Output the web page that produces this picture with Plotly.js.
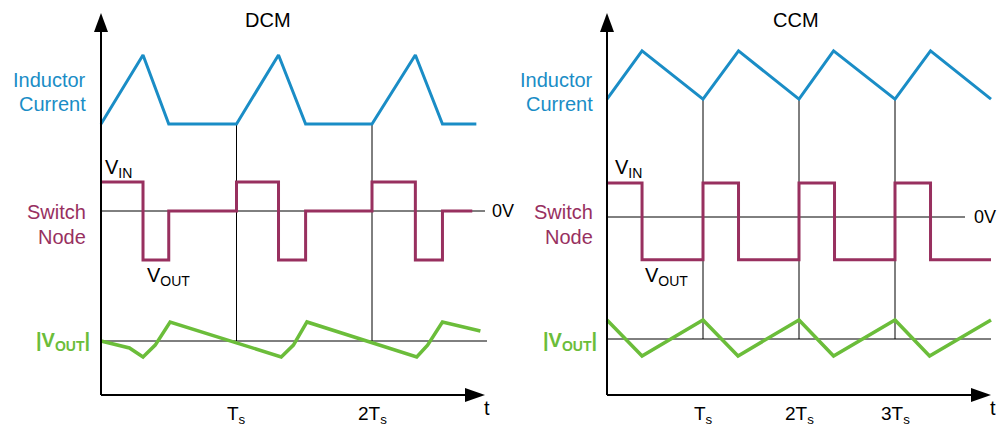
<!DOCTYPE html>
<html>
<head>
<meta charset="utf-8">
<script src="https://cdn.plot.ly/plotly-3.0.1.min.js"></script>
<style>html,body{margin:0;padding:0;background:#fff;}#chart{width:998px;height:426px;}</style>
</head>
<body>
<div id="chart"></div>
<script>
// ---------------- DATA (time in units of Ts, signals normalized) ----------------
// DCM panel
var dcmIT   = [0, 0.31, 0.50, 1.00, 1.31, 1.51, 2.00, 2.32, 2.52, 2.77];
var dcmI    = [0, 1,    0,    0,    1,    0,    0,    1,    0,    0];
var dcmSwT  = [0, 0.31, 0.50, 1.00, 1.31, 1.51, 2.00, 2.32, 2.52, 2.74];
var dcmSw   = [1, -1.69, 0,   1,    -1.69, 0,   1,    -1.69, 0,   0];
var dcmVoT  = [0, 0.21, 0.31, 0.40, 0.51, 1.33, 1.42, 1.52, 2.33, 2.41, 2.52, 2.80];
var dcmVo   = [0.0, -0.41, -0.94, -0.24, 1.12, -0.94, -0.24, 1.12, -0.94, -0.24, 1.12, 0.59];
// CCM panel
var ccmIT   = [0, 0.365, 1, 1.37, 2, 2.36, 3, 3.37, 4];
var ccmI    = [0.36, 1.06, 0.36, 1.06, 0.36, 1.06, 0.36, 1.06, 0.36];
var ccmSwT  = [0, 0.365, 1, 1.37, 2, 2.37, 3, 3.37, 4];
var ccmSw   = [1, -1.26, 1, -1.26, 1, -1.26, 1, -1.26, -1.26];
var ccmVoT  = [0, 0.365, 1, 1.365, 2, 2.36, 3, 3.36, 4];
var ccmVo   = [1.12, -1.0, 1.12, -1.0, 1.12, -1.0, 1.12, -1.0, 1.12];
// tick labels
var dcmTicks = [1, 2];
var dcmTickText = ['T<sub>s</sub>', '2T<sub>s</sub>'];
var ccmTicks = [1, 2, 3];
var ccmTickText = ['T<sub>s</sub>', '2T<sub>s</sub>', '3T<sub>s</sub>'];

// ---------------- STYLE / LAYOUT GEOMETRY ----------------
var BLUE = '#1a8dc6', PURPLE = '#98305f', GREEN = '#6bbd3a', BLACK = '#000';
var FONT = 'Liberation Sans, Arial, sans-serif';
// pixel geometry per panel
var P = {
  L: {x0: 101, pxT: 135.5, dom: [0, 499], iBase: 124, iScale: 69, swZero: 211, swScale: 29,
      voRef: 341, voScale: 17, zeroEnd: 485, zeroLab: 490, refEnd: 487, axEnd: 485,
      labelRight: 88, vinX: 103, voutX: 145, title: 'DCM', titleX: 268},
  R: {x0: 607, pxT: 96, dom: [499, 998], iBase: 124, iScale: 69, swZero: 217, swScale: 34,
      voRef: 339, voScale: 17, zeroEnd: 965, zeroLab: 972, refEnd: 991, axEnd: 991,
      labelRight: 595, vinX: 613, voutX: 643, title: 'CCM', titleX: 796}
};
var AX_Y = 395, AX_TOP = 13;
function t(p, px) { return (px - p.x0) / p.pxT; }

function mapY(arr, base, scale) { return arr.map(function (v) { return base - scale * v; }); }

var traces = [];
var shapes = [];
var ann = [];

function buildPanel(p, xa, ya, iT, iV, swT, swV, voT, voV, ticks, tickText, vlineBase) {
  var xr = xa, yr = ya;
  // guide lines (below traces)
  shapes.push({type: 'line', xref: xr, yref: yr, layer: 'below', x0: 0, x1: t(p, p.zeroEnd), y0: p.swZero, y1: p.swZero, line: {color: BLACK, width: 1}});
  shapes.push({type: 'line', xref: xr, yref: yr, layer: 'below', x0: 0, x1: t(p, p.refEnd), y0: p.voRef, y1: p.voRef, line: {color: BLACK, width: 1}});
  ticks.forEach(function (tk) {
    shapes.push({type: 'line', xref: xr, yref: yr, layer: 'below', x0: tk, x1: tk, y0: vlineBase, y1: p.voRef, line: {color: BLACK, width: 1}});
  });
  // axes with arrows
  shapes.push({type: 'line', xref: xr, yref: yr, x0: 0, x1: 0, y0: AX_Y, y1: AX_TOP + 17, line: {color: BLACK, width: 2}});
  shapes.push({type: 'line', xref: xr, yref: yr, x0: 0, x1: t(p, p.axEnd - 17), y0: AX_Y, y1: AX_Y, line: {color: BLACK, width: 2}});
  var xm = t(p, p.x0 - 7), xp = t(p, p.x0 + 7);
  shapes.push({type: 'path', xref: xr, yref: yr, fillcolor: BLACK, line: {width: 0},
    path: 'M0,' + AX_TOP + ' L' + xm + ',' + (AX_TOP + 19) + ' L' + xp + ',' + (AX_TOP + 19) + ' Z'});
  var xt = t(p, p.axEnd), xb = t(p, p.axEnd - 20);
  shapes.push({type: 'path', xref: xr, yref: yr, fillcolor: BLACK, line: {width: 0},
    path: 'M' + xt + ',' + AX_Y + ' L' + xb + ',' + (AX_Y - 7) + ' L' + xb + ',' + (AX_Y + 7) + ' Z'});

  // waveforms
  traces.push({type: 'scatter', mode: 'lines', xaxis: xa, yaxis: ya, x: swT, y: mapY(swV, p.swZero, p.swScale),
    line: {color: PURPLE, width: 3, shape: 'hv'}, hoverinfo: 'skip'});
  traces.push({type: 'scatter', mode: 'lines', xaxis: xa, yaxis: ya, x: iT, y: mapY(iV, p.iBase, p.iScale),
    line: {color: BLUE, width: 3}, hoverinfo: 'skip'});
  traces.push({type: 'scatter', mode: 'lines', xaxis: xa, yaxis: ya, x: voT, y: mapY(voV, p.voRef, p.voScale),
    line: {color: GREEN, width: 3.5}, hoverinfo: 'skip'});

  // texts
  function A(x, y, text, anchor, color, size) {
    ann.push({xref: xr, yref: yr, x: x, y: y, text: text, xanchor: anchor, yanchor: 'middle', showarrow: false,
      font: {family: FONT, size: size || 20, color: color || BLACK}});
  }
  A(t(p, p.titleX), 20, p.title, 'center');
  A(t(p, p.labelRight), 80, 'Inductor', 'right', BLUE);
  A(t(p, p.labelRight), 104, 'Current', 'right', BLUE);
  A(t(p, p.labelRight), 212, 'Switch', 'right', PURPLE);
  A(t(p, p.labelRight), 237, 'Node', 'right', PURPLE);
  A(t(p, p.labelRight + 4), 341, '<b>|V<sub>OUT</sub>|</b>', 'right', GREEN);
  A(t(p, p.vinX), 168, 'V<sub>IN</sub>', 'left');
  A(t(p, p.voutX), 276, 'V<sub>OUT</sub>', 'left');
  A(t(p, p.zeroLab), p.swZero, '0V', 'left', BLACK, 18);
  A(t(p, p.axEnd + 2), 408, 't', 'center');
  ticks.forEach(function (tk, i) { A(tk, 415, tickText[i], 'center', BLACK, 19); });
}

buildPanel(P.L, 'x', 'y', dcmIT, dcmI, dcmSwT, dcmSw, dcmVoT, dcmVo, dcmTicks, dcmTickText,
  P.L.iBase - P.L.iScale * dcmI[0]);
buildPanel(P.R, 'x2', 'y2', ccmIT, ccmI, ccmSwT, ccmSw, ccmVoT, ccmVo, ccmTicks, ccmTickText,
  P.R.iBase - P.R.iScale * ccmI[0]);

var W = 998, H = 426;
var layout = {
  width: W, height: H, margin: {l: 0, r: 0, t: 0, b: 0, pad: 0},
  paper_bgcolor: '#fff', plot_bgcolor: '#fff', showlegend: false,
  xaxis: {domain: [P.L.dom[0] / W, P.L.dom[1] / W], range: [t(P.L, P.L.dom[0]), t(P.L, P.L.dom[1])], visible: false, fixedrange: true},
  yaxis: {domain: [0, 1], range: [H, 0], visible: false, fixedrange: true},
  xaxis2: {domain: [P.R.dom[0] / W, P.R.dom[1] / W], range: [t(P.R, P.R.dom[0]), t(P.R, P.R.dom[1])], visible: false, anchor: 'y2', fixedrange: true},
  yaxis2: {domain: [0, 1], range: [H, 0], visible: false, anchor: 'x2', fixedrange: true},
  shapes: shapes, annotations: ann
};
Plotly.newPlot('chart', traces, layout, {displayModeBar: false, staticPlot: true});
</script>
</body>
</html>
